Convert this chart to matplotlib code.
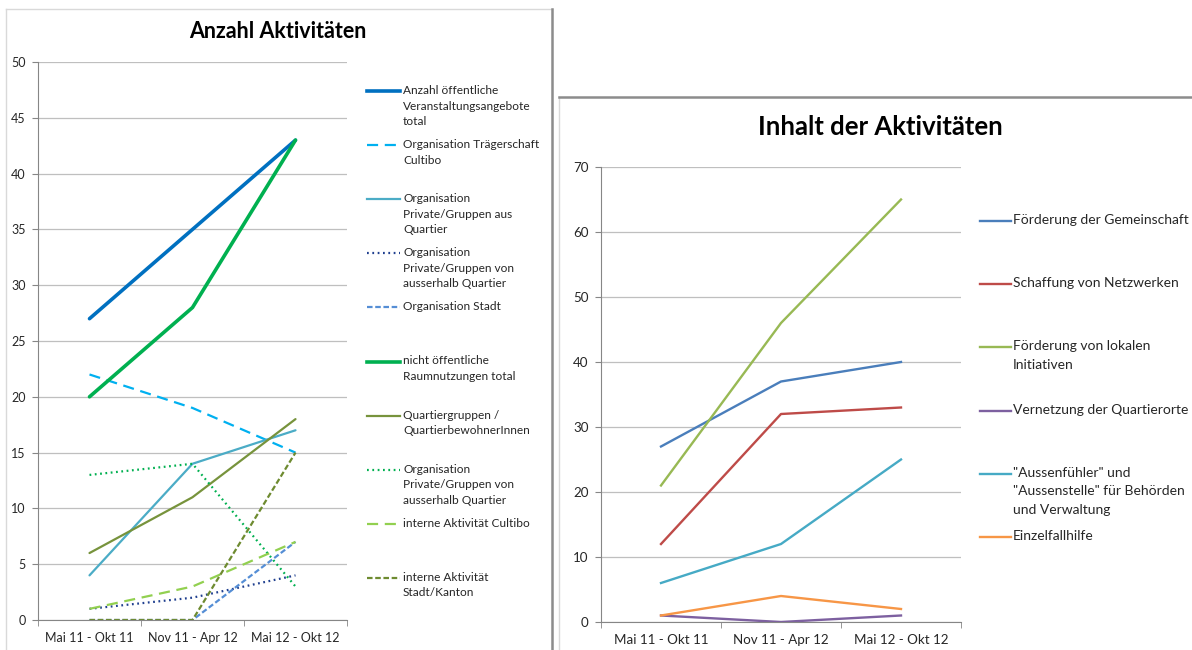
import matplotlib
matplotlib.use("Agg")
import matplotlib.pyplot as plt
from matplotlib.lines import Line2D
from matplotlib.ticker import FixedLocator

plt.rcParams['font.family'] = ['Lato', 'DejaVu Sans']

# data
periods = ["Mai 11 - Okt 11", "Nov 11 - Apr 12", "Mai 12 - Okt 12"]

left_labels = [
    "Anzahl öffentliche\nVeranstaltungsangebote\ntotal",
    "Organisation Trägerschaft\nCultibo",
    "Organisation\nPrivate/Gruppen aus\nQuartier",
    "Organisation\nPrivate/Gruppen von\nausserhalb Quartier",
    "Organisation Stadt",
    "nicht öffentliche\nRaumnutzungen total",
    "Quartiergruppen /\nQuartierbewohnerInnen",
    "Organisation\nPrivate/Gruppen von\nausserhalb Quartier",
    "interne Aktivität Cultibo",
    "interne Aktivität\nStadt/Kanton",
]
oeffentlich_total = [27, 35, 43]
traegerschaft = [22, 19, 15]
private_aus_quartier = [4, 14, 17]
private_ausserhalb = [1, 2, 4]
stadt = [0, 0, 7]
raumnutzung_total = [20, 28, 43]
quartiergruppen = [6, 11, 18]
raum_private_ausserhalb = [13, 14, 3]
intern_cultibo = [1, 3, 7]
intern_stadt_kanton = [0, 0, 15]
left_series = [oeffentlich_total, traegerschaft, private_aus_quartier, private_ausserhalb,
               stadt, raumnutzung_total, quartiergruppen, raum_private_ausserhalb,
               intern_cultibo, intern_stadt_kanton]

right_labels = [
    "Förderung der Gemeinschaft",
    "Schaffung von Netzwerken",
    "Förderung von lokalen\nInitiativen",
    "Vernetzung der Quartierorte",
    "\"Aussenfühler\" und\n\"Aussenstelle\" für Behörden\nund Verwaltung",
    "Einzelfallhilfe",
]
gemeinschaft = [27, 37, 40]
netzwerke = [12, 32, 33]
initiativen = [21, 46, 65]
quartierorte = [1, 0, 1]
aussenfuehler = [6, 12, 25]
einzelfall = [1, 4, 2]
right_series = [gemeinschaft, netzwerke, initiativen, quartierorte, aussenfuehler, einzelfall]

# styles
long_dash = (0, (5, 3))
short_dash = (0, (2.5, 1.2))
dots = (0, (0.8, 1.6))
left_styles = [
    dict(color="#0070C0", lw=2.6, ls="-"),
    dict(color="#00B0F0", lw=1.6, ls=long_dash),
    dict(color="#4BACC6", lw=1.6, ls="-"),
    dict(color="#1F3F8F", lw=1.6, ls=dots),
    dict(color="#558ED5", lw=1.6, ls=short_dash),
    dict(color="#00B050", lw=2.6, ls="-"),
    dict(color="#77933C", lw=1.6, ls="-"),
    dict(color="#00B050", lw=1.6, ls=dots),
    dict(color="#92D050", lw=1.6, ls=long_dash),
    dict(color="#6E8B30", lw=1.6, ls=short_dash),
]
right_colors = ["#4A7EBB", "#BE4B48", "#98B954", "#7D60A0", "#46AAC5", "#F79646"]

W, H = 1192, 650
fig = plt.figure(figsize=(W / 100, H / 100), dpi=100)

# overlay axis in pixel units for frames and legends
over = fig.add_axes([0, 0, 1, 1], zorder=0)
over.set_xlim(0, W)
over.set_ylim(H, 0)
over.axis("off")

# chart frames
over.plot([6, 6], [9, H], color="#D9D9D9", lw=1)
over.plot([6, 552], [9, 9], color="#D9D9D9", lw=1)
over.plot([552, 552], [9, H], color="#8C8C8C", lw=1.8)
over.plot([559, 559], [97, H], color="#D9D9D9", lw=1)
over.plot([559, W], [97, 97], color="#8C8C8C", lw=1.8)


def style_axes(ax, ymax, step, fs):
    ax.set_xlim(-0.5, 2.5)
    ax.set_ylim(0, ymax)
    ax.set_yticks(range(0, ymax + 1, step))
    ax.set_xticks(range(len(periods)))
    ax.set_xticklabels(periods, fontsize=fs, color="#262626")
    ax.xaxis.set_minor_locator(FixedLocator([-0.5, 0.5, 1.5, 2.5]))
    ax.tick_params(axis="x", which="major", length=0, pad=9)
    ax.tick_params(axis="x", which="minor", length=4, color="#868686")
    ax.tick_params(axis="y", length=4, color="#868686", labelsize=fs, labelcolor="#262626", pad=5)
    ax.grid(axis="y", color="#BFBFBF", lw=0.9)
    ax.set_axisbelow(True)
    for s in ["top", "right"]:
        ax.spines[s].set_visible(False)
    ax.spines["left"].set_color("#868686")
    ax.spines["bottom"].set_color("#868686")
    ax.patch.set_alpha(0)


# left chart
ax1 = fig.add_axes([38 / W, 30 / H, 309 / W, 558 / H], zorder=1)
x = range(len(periods))
for vals, st in zip(left_series, left_styles):
    ax1.plot(x, vals, color=st["color"], lw=st["lw"], ls=st["ls"], solid_capstyle="round")
style_axes(ax1, 50, 5, 9)
fig.text(278 / W, 1 - 32 / H, "Anzahl Aktivitäten", ha="center", va="center",
         fontsize=15.5, fontweight="bold", color="black")

for i, (lab, st) in enumerate(zip(left_labels, left_styles)):
    y = 91 + i * 54.1
    over.add_line(Line2D([367, 400], [y, y], color=st["color"], lw=st["lw"], ls=st["ls"]))
    over.text(403, y - 6, lab, fontsize=8.6, color="#262626", va="top", ha="left",
              linespacing=1.5)

# right chart
ax2 = fig.add_axes([601 / W, 28 / H, 360 / W, 455 / H], zorder=1)
for vals, c in zip(right_series, right_colors):
    ax2.plot(x, vals, color=c, lw=1.7)
style_axes(ax2, 70, 10, 9.6)
fig.text(880 / W, 1 - 127 / H, "Inhalt der Aktivitäten", ha="center", va="center",
         fontsize=18.5, fontweight="bold", color="black")

for i, (lab, c) in enumerate(zip(right_labels, right_colors)):
    y = 221 + i * 63.2
    over.add_line(Line2D([980, 1011], [y, y], color=c, lw=1.7))
    over.text(1013, y - 7, lab, fontsize=10, color="#262626", va="top", ha="left",
              linespacing=1.65)

fig.savefig("out.png", dpi=100)
